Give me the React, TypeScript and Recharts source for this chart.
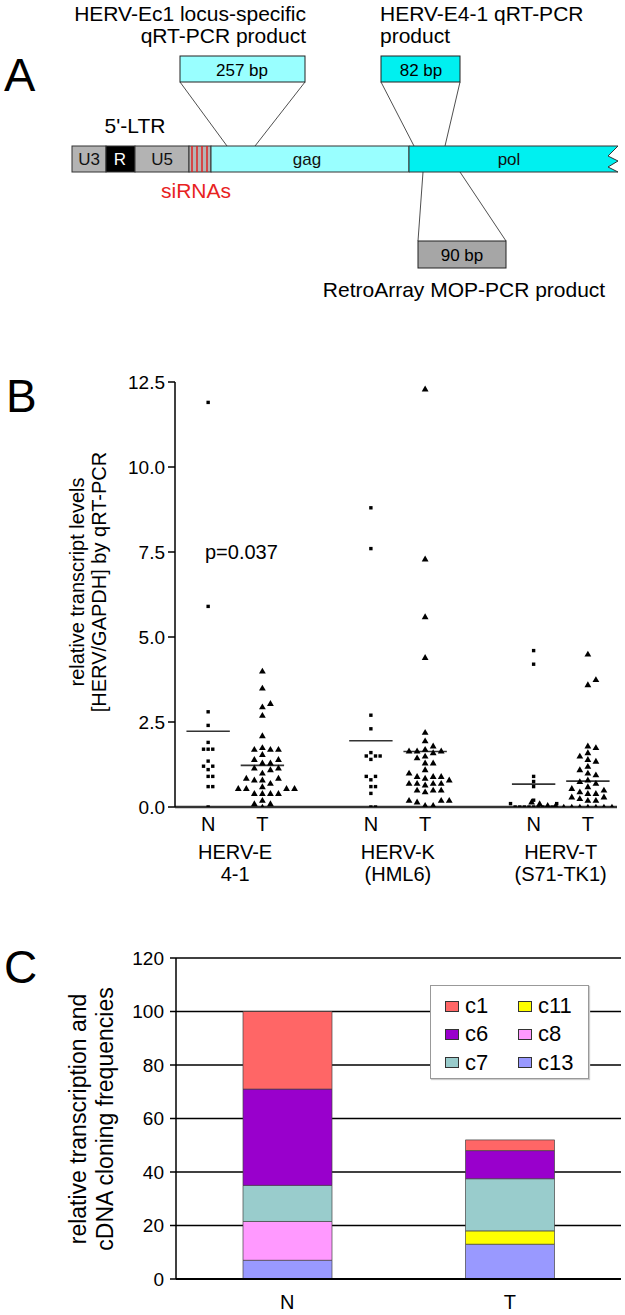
import React from 'react';
import {
  ScatterChart, Scatter, XAxis, YAxis, ReferenceLine,
  BarChart, Bar, CartesianGrid, Legend,
} from 'recharts';

const FONT = '"Liberation Sans", Arial, Helvetica, sans-serif';

// ---- panel B data: relative transcript levels (HERV/GAPDH) ----
const sampleLabels = ['N', 'T'];
const groupNames = ['HERV-E', 'HERV-K', 'HERV-T'];
const groupSubNames = ['4-1', '(HML6)', '(S71-TK1)'];

const herveN = [11.9, 5.9, 2.8, 2.4, 1.9, 1.7, 1.7, 1.7, 1.35, 1.2, 1.2, 1.1, 0.9, 0.9, 0.6, 0.6, 0];
const herveT = [4.0, 3.5, 3.05, 2.95, 2.7, 2.1, 1.75, 1.7, 1.7, 1.7, 1.55, 1.4, 1.4, 1.3, 1.3, 1.15, 1.15, 1.1, 1.0,
  0.85, 0.85, 0.8, 0.8, 0.7, 0.6, 0.55, 0.55, 0.55, 0.55, 0.4, 0.4, 0.4, 0.4, 0.2, 0.1, 0.1, 0.0];
const hervkN = [8.8, 7.6, 2.7, 2.3, 1.6, 1.5, 1.5, 1.5, 1.4, 0.9, 0.9, 0.8, 0.6, 0.6, 0.4, 0, 0];
const hervkT = [12.3, 7.3, 5.6, 4.4, 2.2, 1.95, 1.8, 1.7, 1.65, 1.65, 1.65, 1.6, 1.5, 1.45, 1.3, 1.3, 1.1, 1.0,
  0.9, 0.9, 0.9, 0.85, 0.8, 0.7, 0.7, 0.7, 0.7, 0.65, 0.5, 0.5, 0.5, 0.45, 0.2, 0.2, 0.2, 0.15, 0.05, 0.05];
const hervtN = [4.6, 4.2, 0.9, 0.75, 0.6, 0.2, 0.1, 0.1, 0, 0, 0, 0, 0, 0, 0, 0, 0];
const hervtT = [4.5, 3.75, 3.6, 1.8, 1.75, 1.6, 1.5, 1.4, 1.35, 1.2, 1.1, 1.0, 0.95, 0.8, 0.75, 0.7, 0.6, 0.55,
  0.5, 0.45, 0.4, 0.4, 0.3, 0.3, 0.25, 0.2, 0.2, 0.15, 0.15, 0.1, 0.1, 0.1, 0.05, 0.05, 0.05, 0.05, 0, 0, 0, 0, 0, 0, 0];
const yTicksB = [0, 2.5, 5, 7.5, 10, 12.5];

// ---- panel C data: cloning frequencies ----
const categoriesC = ['N', 'T'];
const c1 = [29, 4];
const c6 = [36, 10.5];
const c7 = [13.5, 19.5];
const c8 = [14.5, 0];
const c11 = [0, 5];
const c13 = [7, 13];
const yTicksC = [0, 20, 40, 60, 80, 100, 120];

const cloneColors: Record<string, string> = {
  c1: '#ff6666', c6: '#9900cc', c7: '#99cccc', c8: '#ff99ff', c11: '#ffff00', c13: '#9999ff',
};
const stackOrder = ['c13', 'c11', 'c8', 'c7', 'c6', 'c1'];
const legendOrder = ['c1', 'c11', 'c6', 'c8', 'c7', 'c13'];

const barData = categoriesC.map((name, i) => ({
  name, c1: c1[i], c6: c6[i], c7: c7[i], c8: c8[i], c11: c11[i], c13: c13[i],
}));

// scatter geometry (plot 440 x 425 px)
const X_DOMAIN: [number, number] = [0.389, 8.537];
const X_PX = 440 / (X_DOMAIN[1] - X_DOMAIN[0]);
const Y_PX = 425 / 12.5;

// simple column beeswarm, prism-like
function swarm(values: number[], center: number, colPx: number, rowPx: number) {
  const placed: { k: number; v: number }[] = [];
  return [...values].sort((a, b) => a - b).map((v) => {
    let k = 0;
    for (let i = 0; i < 60; i++) {
      const cand = i === 0 ? 0 : i % 2 === 1 ? (i + 1) / 2 : -(i / 2);
      if (!placed.some((p) => p.k === cand && Math.abs(p.v - v) * Y_PX < rowPx)) {
        k = cand;
        break;
      }
    }
    placed.push({ k, v });
    return { x: center + (k * colPx) / X_PX, y: v };
  });
}

const groupsB = [herveN, herveT, hervkN, hervkT, hervtN, hervtT];
const xOf = (i: number) => 1 + Math.floor(i / 2) * 3 + (i % 2);
const mean = (a: number[]) => a.reduce((s, v) => s + v, 0) / a.length;

const Square = (p: any) => (
  <rect x={p.cx - 1.7} y={p.cy - 1.7} width={3.4} height={3.4} fill="#000" />
);
const Triangle = (p: any) => (
  <path d={`M${p.cx},${p.cy - 3.3}L${p.cx + 3.4},${p.cy + 2.6}L${p.cx - 3.4},${p.cy + 2.6}Z`} fill="#000" />
);

// N / T tick, plus the group name under each N/T pair
const SampleTick = (props: any) => {
  const { x, y, payload } = props;
  const v = payload.value as number;
  const s = (v - 1) % 3;
  const g = Math.floor((v - 1) / 3);
  const gx = x + X_PX / 2;
  return (
    <g>
      <text x={x} y={y} dy="0.71em" textAnchor="middle" fontSize={20} fontFamily={FONT} fill="#000">
        {sampleLabels[s]}
      </text>
      {s === 0 && (
        <text x={gx} y={y + 28} textAnchor="middle" fontSize={20} fontFamily={FONT} fill="#000">
          <tspan x={gx} dy="0.71em">{groupNames[g]}</tspan>
          <tspan x={gx} dy={22}>{groupSubNames[g]}</tspan>
        </text>
      )}
    </g>
  );
};

const LegendBox = () => (
  <div style={{
    width: 159, height: 94, boxSizing: 'border-box', border: '1px solid #999', background: '#fff',
    fontFamily: FONT, fontSize: 22, color: '#000', paddingLeft: 14, paddingTop: 7,
    display: 'grid', gridTemplateColumns: '73px 72px', boxShadow: '1px 1px 1px #ccc',
  }}>
    {legendOrder.map((k) => (
      <div key={k} style={{ display: 'flex', alignItems: 'center', height: 26, lineHeight: '26px' }}>
        <span style={{
          display: 'inline-block', width: 14, height: 11, boxSizing: 'border-box',
          background: cloneColors[k], border: '1px solid #333', marginRight: 6,
        }} />
        {k}
      </div>
    ))}
  </div>
);

function PanelA() {
  const t = { fontFamily: FONT, fontSize: 21, fill: '#000' } as const;
  return (
    <g>
      <text x={306} y={21} textAnchor="end" {...t}>HERV-Ec1 locus-specific</text>
      <text x={306} y={43} textAnchor="end" {...t}>qRT-PCR product</text>
      <text x={380} y={21} {...t}>HERV-E4-1 qRT-PCR</text>
      <text x={380} y={43} {...t}>product</text>
      <text x={4} y={91} fontFamily={FONT} fontSize={47}>A</text>

      <line x1={180} y1={82} x2={227} y2={146} stroke="#222" strokeWidth={0.8} />
      <line x1={305} y1={82} x2={255} y2={146} stroke="#222" strokeWidth={0.8} />
      <line x1={381} y1={82} x2={414} y2={146} stroke="#222" strokeWidth={0.8} />
      <line x1={460} y1={82} x2={445} y2={146} stroke="#222" strokeWidth={0.8} />
      <rect x={180} y={56} width={125} height={26} fill="#99ffff" stroke="#222" strokeWidth={1} />
      <text x={242} y={76} textAnchor="middle" fontFamily={FONT} fontSize={17}>257 bp</text>
      <rect x={381} y={56} width={79} height={26} fill="#00f0f0" stroke="#222" strokeWidth={1} />
      <text x={421} y={76} textAnchor="middle" fontFamily={FONT} fontSize={17}>82 bp</text>

      <text x={135} y={133} textAnchor="middle" {...t}>5'-LTR</text>
      <rect x={72} y={146} width={34} height={26} fill="#b3b3b3" stroke="#333" />
      <rect x={106} y={146} width={29} height={26} fill="#000" stroke="#333" />
      <rect x={135} y={146} width={54} height={26} fill="#b3b3b3" stroke="#333" />
      <rect x={189} y={146} width={22} height={26} fill="#b3b3b3" stroke="#333" />
      {[192, 197, 202, 207].map((x) => (
        <line key={x} x1={x} y1={146} x2={x} y2={172} stroke="#e02020" strokeWidth={1.5} />
      ))}
      <rect x={211} y={146} width={198} height={26} fill="#99ffff" stroke="#333" />
      <path d="M409,146L618,146L608,156L618,161L608,167L618,172L409,172Z" fill="#00f0f0" stroke="#333" />
      <text x={89} y={165} textAnchor="middle" fontFamily={FONT} fontSize={17} fill="#111">U3</text>
      <text x={120} y={165} textAnchor="middle" fontFamily={FONT} fontSize={17} fill="#fff">R</text>
      <text x={162} y={165} textAnchor="middle" fontFamily={FONT} fontSize={17} fill="#111">U5</text>
      <text x={307} y={165} textAnchor="middle" fontFamily={FONT} fontSize={17} fill="#111">gag</text>
      <text x={509} y={165} textAnchor="middle" fontFamily={FONT} fontSize={17} fill="#111">pol</text>
      <text x={196} y={198} textAnchor="middle" fontFamily={FONT} fontSize={21} fill="#e8231f">siRNAs</text>

      <line x1={423} y1={172} x2={418} y2={241} stroke="#222" strokeWidth={0.8} />
      <line x1={460} y1={172} x2={506} y2={241} stroke="#222" strokeWidth={0.8} />
      <rect x={418} y={241} width={88} height={27} fill="#a6a6a6" stroke="#222" strokeWidth={1} />
      <text x={462} y={261} textAnchor="middle" fontFamily={FONT} fontSize={17}>90 bp</text>
      <text x={464} y={297} textAnchor="middle" {...t}>RetroArray MOP-PCR product</text>
    </g>
  );
}

export default function App() {
  const axisTick = { fontSize: 19, fill: '#000', fontFamily: FONT };
  return (
    <div style={{ position: 'absolute', left: 0, top: 0, width: 625, height: 1315, background: '#fff', fontFamily: FONT }}>
      {/* Panel B */}
      <div style={{ position: 'absolute', left: 0, top: 330 }}>
        <ScatterChart width={625} height={560} margin={{ top: 52, right: 8, left: 115, bottom: 5 }}>
          <XAxis
            dataKey="x" type="number" domain={X_DOMAIN} ticks={[1, 2, 4, 5, 7, 8]}
            axisLine={{ stroke: '#333', strokeWidth: 2.5 }} tickLine={false}
            tickSize={4} tickMargin={6} height={78}
            tick={<SampleTick />} allowDataOverflow
          />
          <YAxis
            dataKey="y" type="number" domain={[0, 12.5]} ticks={yTicksB} width={60}
            tickFormatter={(v: number) => v.toFixed(1)}
            axisLine={{ stroke: '#000', strokeWidth: 1.5 }} tickLine={{ stroke: '#000', strokeWidth: 1.5 }}
            tickSize={7} tickMargin={3} tick={axisTick} allowDataOverflow
          />
          {groupsB.map((vals, i) => (
            <Scatter
              key={i}
              data={swarm(vals, xOf(i), i % 2 === 0 ? 4.6 : 8, i % 2 === 0 ? 3.6 : 6)}
              shape={i % 2 === 0 ? Square : Triangle}
              isAnimationActive={false}
            />
          ))}
          {groupsB.map((vals, i) => (
            <ReferenceLine
              key={'m' + i}
              segment={[{ x: xOf(i) - 0.4, y: mean(vals) }, { x: xOf(i) + 0.4, y: mean(vals) }]}
              stroke="#333" strokeWidth={1.6}
            />
          ))}
        </ScatterChart>
      </div>

      {/* Panel C */}
      <div style={{ position: 'absolute', left: 0, top: 940 }}>
        <BarChart width={625} height={375} data={barData} margin={{ top: 18, right: 4, left: 116, bottom: 6 }}>
          <CartesianGrid vertical={false} stroke="#000" strokeWidth={1.6} />
          <XAxis
            dataKey="name" axisLine={{ stroke: '#000', strokeWidth: 2 }} tickLine={false}
            tickSize={6} tickMargin={10} height={30}
            tick={{ fontSize: 20, fill: '#000', fontFamily: FONT }}
          />
          <YAxis
            domain={[0, 120]} ticks={yTicksC} width={60}
            axisLine={{ stroke: '#000', strokeWidth: 1.5 }} tickLine={{ stroke: '#000', strokeWidth: 1.5 }}
            tickSize={6} tickMargin={6} tick={axisTick}
          />
          <YAxis
            yAxisId="right" orientation="right" domain={[0, 120]} width={0} tick={false} tickLine={false}
            axisLine={{ stroke: '#000', strokeWidth: 1.5 }}
          />
          <Legend
            layout="horizontal" verticalAlign="middle" align="center"
            wrapperStyle={{ left: 430, top: 45, width: 159, height: 94 }}
            content={<LegendBox />}
          />
          {stackOrder.map((k) => (
            <Bar key={k} dataKey={k} stackId="a" fill={cloneColors[k]} stroke="#444" strokeWidth={0.7}
              barSize={89} isAnimationActive={false} />
          ))}
        </BarChart>
      </div>

      {/* text layer */}
      <svg width={625} height={1315} style={{ position: 'absolute', left: 0, top: 0, pointerEvents: 'none' }}>
        <PanelA />
        <text x={6} y={412} fontFamily={FONT} fontSize={46}>B</text>
        <text transform="translate(84,582) rotate(-90)" textAnchor="middle" fontFamily={FONT} fontSize={20}>
          relative transcript levels
        </text>
        <text transform="translate(106,582) rotate(-90)" textAnchor="middle" fontFamily={FONT} fontSize={20}>
          [HERV/GAPDH] by qRT-PCR
        </text>
        <text x={205} y={559} fontFamily={FONT} fontSize={20}>p=0.037</text>
        <text x={4} y={983} fontFamily={FONT} fontSize={46}>C</text>
        <text transform="translate(86,1119) rotate(-90)" textAnchor="middle" fontFamily={FONT} fontSize={23}>
          relative transcription and
        </text>
        <text transform="translate(113,1119) rotate(-90)" textAnchor="middle" fontFamily={FONT} fontSize={23}>
          cDNA cloning frequencies
        </text>
      </svg>
    </div>
  );
}
